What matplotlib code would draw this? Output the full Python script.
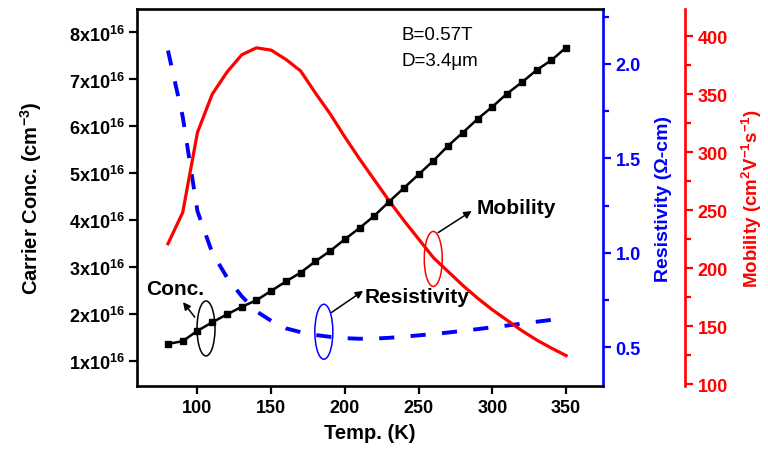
import matplotlib
matplotlib.use("Agg")
import matplotlib.pyplot as plt
from matplotlib.patches import Ellipse
from matplotlib.ticker import FixedLocator, MultipleLocator

plt.rcParams['font.family'] = ['Liberation Sans', 'DejaVu Sans']
plt.rcParams['font.weight'] = 'bold'
plt.rcParams['mathtext.fontset'] = 'custom'
plt.rcParams['mathtext.rm'] = 'Liberation Sans:bold'
plt.rcParams['mathtext.it'] = 'Liberation Sans:bold'
plt.rcParams['mathtext.bf'] = 'Liberation Sans:bold'
plt.rcParams['mathtext.default'] = 'rm'

# ---- data ----
temp = [80, 90, 100, 110, 120, 130, 140, 150, 160, 170, 180, 190, 200, 210,
        220, 230, 240, 250, 260, 270, 280, 290, 300, 310, 320, 330, 340, 350]
conc = [1.37, 1.43, 1.65, 1.83, 2.00, 2.16, 2.30, 2.50, 2.70, 2.89, 3.13, 3.35,
        3.60, 3.84, 4.10, 4.40, 4.69, 4.98, 5.27, 5.59, 5.87, 6.16, 6.42, 6.70,
        6.94, 7.20, 7.41, 7.68]  # x1e16 cm^-3
resistivity = [2.07, 1.72, 1.22, 1.00, 0.87, 0.77, 0.69, 0.64, 0.60, 0.58, 0.565,
               0.555, 0.548, 0.545, 0.546, 0.55, 0.556, 0.563, 0.57, 0.578, 0.587,
               0.596, 0.606, 0.615, 0.625, 0.635, 0.645, 0.655]
mobility = [221, 248, 317, 350, 369, 384, 390, 388, 380, 370, 351, 333, 313, 294,
            276, 258, 241, 225, 209, 197, 185, 174, 164, 155, 146, 138, 131, 124.5]

conc_ticks = [1, 2, 3, 4, 5, 6, 7, 8]
conc_ticklabels = [r"%dx10$^{16}$" % v for v in conc_ticks]
temp_ticks = [100, 150, 200, 250, 300, 350]
res_ticks = [0.5, 1.0, 1.5, 2.0]
mob_ticks = [100, 150, 200, 250, 300, 350, 400]

BLUE = '#0000FF'
RED = '#FF0000'
TICK_FS = 13

fig = plt.figure(figsize=(7.68, 4.56), dpi=100)
ax = fig.add_axes([137/768, 1-387/456, (603-137)/768, (387-10)/456])
ax2 = ax.twinx()
ax3 = ax.twinx()
ax.set_zorder(3)
ax.patch.set_visible(False)

# main axis (concentration)
ax.plot(temp, conc, color='black', lw=1.8, marker='s', ms=4.2, zorder=5)
ax.set_xlim(59, 375)
ax.set_ylim(0.475, 8.5)
ax.xaxis.set_major_locator(FixedLocator(temp_ticks))
ax.yaxis.set_major_locator(FixedLocator(conc_ticks))
ax.set_yticklabels(conc_ticklabels)
for s in ['left', 'bottom', 'top']:
    ax.spines[s].set_linewidth(1.9)
ax.spines['right'].set_visible(False)
ax.tick_params(axis='both', which='major', length=6, width=1.6, labelsize=TICK_FS, direction='out')
ax.tick_params(axis='y', pad=3)
ax.set_xlabel('Temp. (K)', fontsize=14.5, fontweight='bold', labelpad=5)
ax.set_ylabel(r'Carrier Conc. (cm$^{-3}$)', fontsize=14.5, fontweight='bold', labelpad=18)

# resistivity axis
ax2.plot(temp, resistivity, color=BLUE, lw=2.8, dashes=(3.9, 4.2))
ax2.set_ylim(0.295, 2.29)
ax2.yaxis.set_major_locator(FixedLocator(res_ticks))
ax2.yaxis.set_minor_locator(MultipleLocator(0.25))
ax2.yaxis.set_major_formatter(matplotlib.ticker.FormatStrFormatter('%.1f'))
for s in ['left', 'top', 'bottom']:
    ax2.spines[s].set_visible(False)
ax2.spines['right'].set_color(BLUE)
ax2.spines['right'].set_linewidth(1.9)
ax2.tick_params(axis='y', which='major', colors=BLUE, length=6, width=1.6, labelsize=TICK_FS, pad=3)
ax2.tick_params(axis='y', which='minor', colors=BLUE, length=4, width=1.6)
ax2.set_ylabel('Resistivity (Ω-cm)', color=BLUE, fontsize=14, fontweight='bold', labelpad=10)

# mobility axis
ax3.plot(temp, mobility, color=RED, lw=2.3)
ax3.set_ylim(98.3, 423.5)
ax3.spines['right'].set_position(('outward', 59))
ax3.yaxis.set_major_locator(FixedLocator(mob_ticks))
ax3.yaxis.set_minor_locator(MultipleLocator(25))
for s in ['left', 'top', 'bottom']:
    ax3.spines[s].set_visible(False)
ax3.spines['right'].set_color(RED)
ax3.spines['right'].set_linewidth(1.9)
ax3.tick_params(axis='y', which='major', colors=RED, length=6, width=1.6, labelsize=TICK_FS, pad=3)
ax3.tick_params(axis='y', which='minor', colors=RED, length=4, width=1.6)
ax3.set_ylabel(r'Mobility (cm$^{2}$V$^{-1}$s$^{-1}$)', color=RED, fontsize=13.5, fontweight='bold', labelpad=9)

# annotations
ax.text(238.6, 7.96, 'B=0.57T', fontsize=13.5, fontweight='normal', va='center', ha='left', zorder=6)
ax.text(238.6, 7.40, 'D=3.4μm', fontsize=13.5, fontweight='normal', va='center', ha='left', zorder=6)

ell_w, ell_h = 12.2, 1.17
for (cx, cy, col) in [(105.8, 1.70, 'black'), (185.7, 1.63, BLUE), (259.9, 3.18, RED)]:
    ax.add_patch(Ellipse((cx, cy), ell_w, ell_h, fill=False, edgecolor=col, lw=1.1, zorder=6))

arrow = dict(arrowstyle='-|>', color='black', lw=1.1, mutation_scale=11, shrinkA=0, shrinkB=0)
ax.annotate('', xy=(90.2, 2.26), xytext=(98.2, 1.94), arrowprops=arrow, zorder=6)
ax.annotate('', xy=(212.3, 2.50), xytext=(190.9, 2.04), arrowprops=arrow, zorder=6)
ax.annotate('', xy=(285.9, 4.20), xytext=(263.2, 3.74), arrowprops=arrow, zorder=6)
ax.text(85.1, 2.54, 'Conc.', fontsize=15, fontweight='bold', ha='center', va='center', zorder=6)
ax.text(213.5, 2.37, 'Resistivity', fontsize=15, fontweight='bold', ha='left', va='center', zorder=6)
ax.text(289.3, 4.28, 'Mobility', fontsize=15, fontweight='bold', ha='left', va='center', zorder=6)

fig.savefig('out.png', dpi=100)
